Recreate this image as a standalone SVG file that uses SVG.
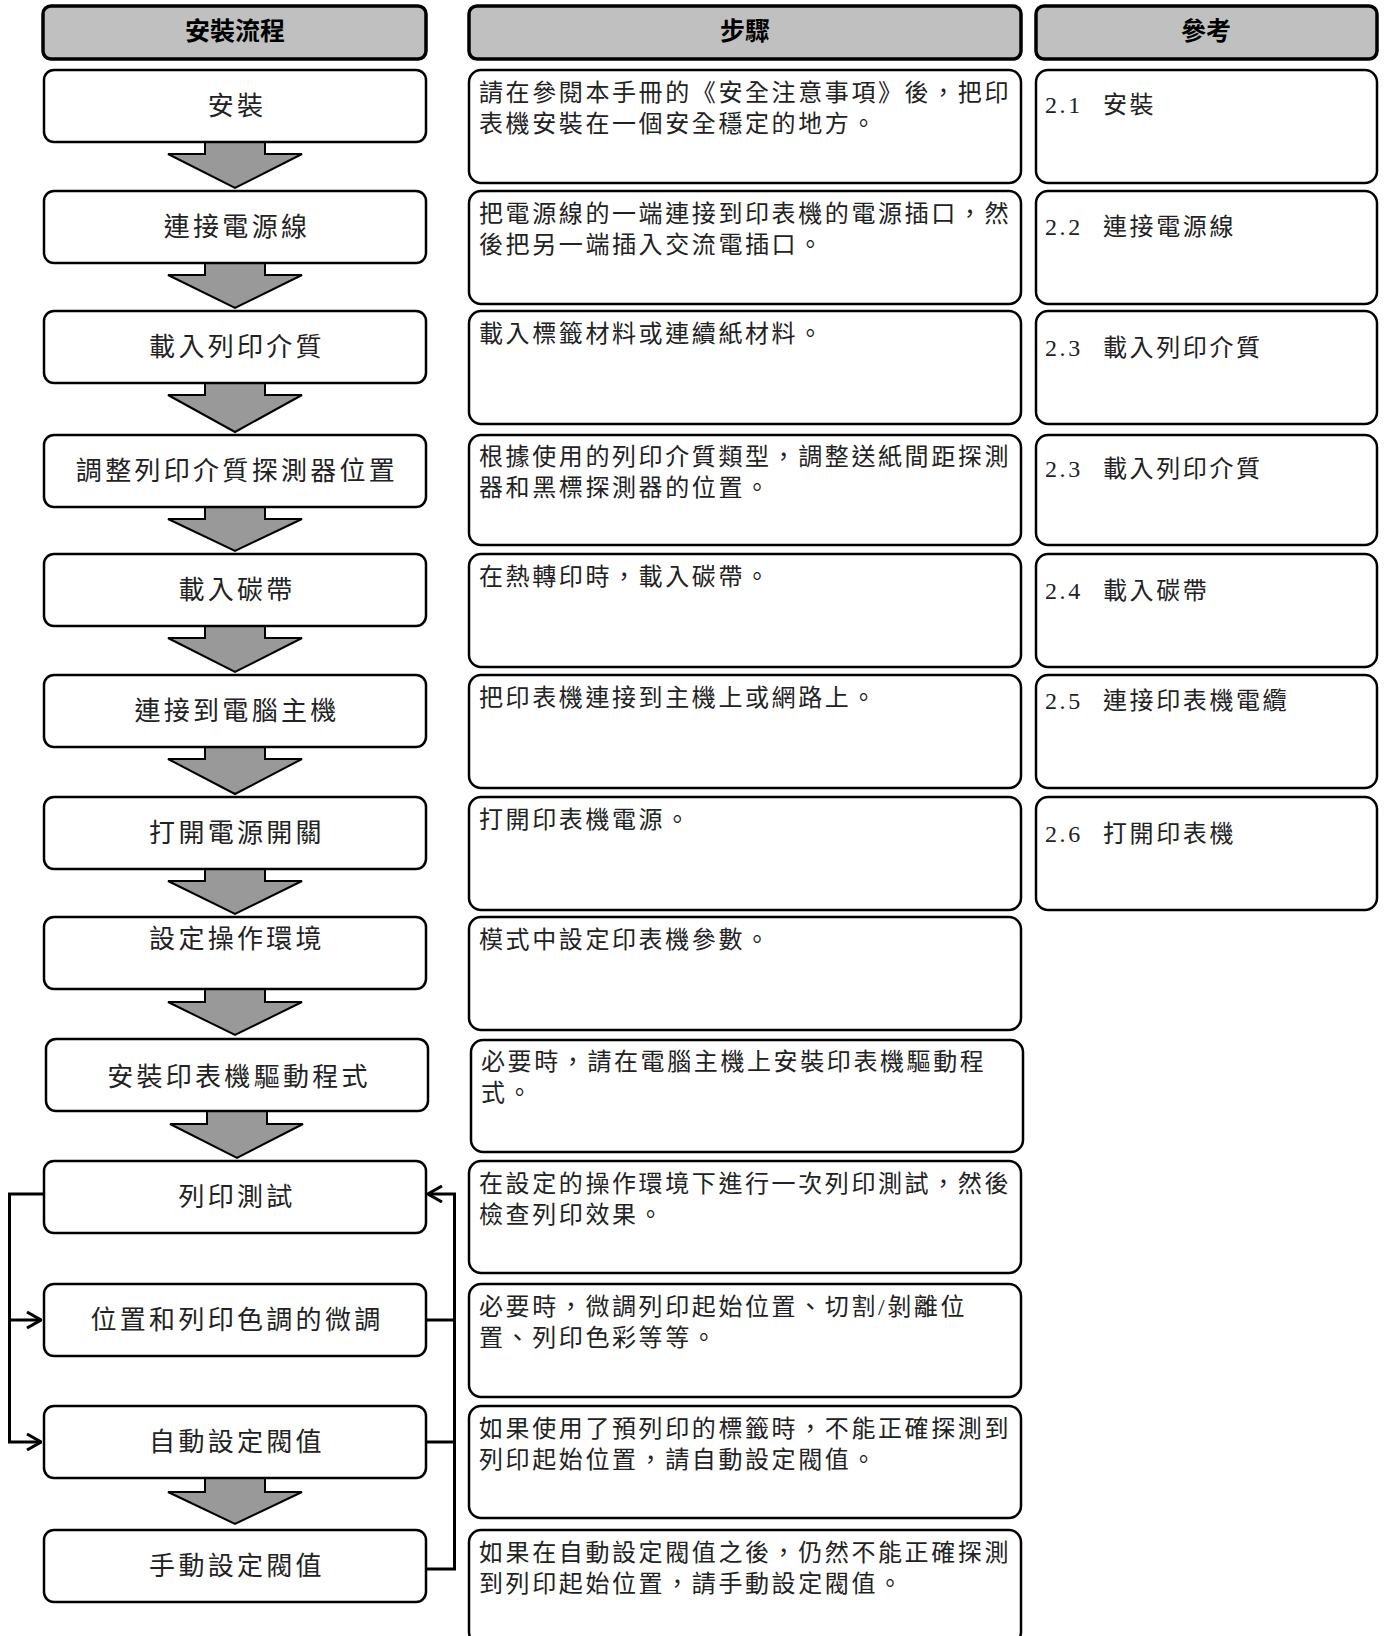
<svg xmlns="http://www.w3.org/2000/svg" width="1384" height="1636" viewBox="0 0 1384 1636">
<style>
.hdr{fill:#c0c0c0;stroke:#000;stroke-width:3.5}
.box{fill:#fff;stroke:#000;stroke-width:2.5}
.ht{font-family:"Noto Sans CJK TC","Noto Sans CJK SC",sans-serif;font-weight:bold;font-size:25px;text-anchor:middle;fill:#000}
.nt{font-family:"Liberation Serif","Noto Sans CJK TC",serif;font-size:26px;letter-spacing:3.3px;text-anchor:middle;fill:#222}
.st{font-family:"Liberation Serif","Noto Sans CJK TC",serif;font-size:24px;letter-spacing:2.6px;fill:#222}
.blk{fill:#999;stroke:#000;stroke-width:2;stroke-linejoin:miter}
.ln{fill:none;stroke:#000;stroke-width:3}
</style>
<defs>
<marker id="chev" viewBox="0 0 16 18" refX="15" refY="9" markerWidth="16" markerHeight="18" markerUnits="userSpaceOnUse" orient="auto">
<path d="M1,1 L15,9 L1,17" fill="none" stroke="#000" stroke-width="3"/>
</marker>
</defs>

<g id="headers">
<g id="h-flow"><rect class="hdr" x="43" y="6" width="383" height="53" rx="8"/><text class="ht" x="235" y="40">安裝流程</text></g>
<g id="h-step"><rect class="hdr" x="469" y="6" width="552" height="53" rx="8"/><text class="ht" x="745" y="40">步驟</text></g>
<g id="h-ref"><rect class="hdr" x="1036" y="6" width="341" height="53" rx="8"/><text class="ht" x="1206" y="40">參考</text></g>
</g>

<g id="connectors">
<polygon class="blk" points="205,142 265,142 265,154 302,154 235,188 168,154 205,154"/>
<polygon class="blk" points="205,263 265,263 265,275 302,275 235,308 168,275 205,275"/>
<polygon class="blk" points="205,383 265,383 265,395 302,395 235,432 168,395 205,395"/>
<polygon class="blk" points="205,507 265,507 265,519 302,519 235,551 168,519 205,519"/>
<polygon class="blk" points="205,626 265,626 265,638 302,638 235,672 168,638 205,638"/>
<polygon class="blk" points="205,747 265,747 265,759 302,759 235,794 168,759 205,759"/>
<polygon class="blk" points="205,869 265,869 265,881 302,881 235,914 168,881 205,881"/>
<polygon class="blk" points="205,989 265,989 265,1002 302,1002 235,1035 168,1002 205,1002"/>
<polygon class="blk" points="207,1111 267,1111 267,1124 303,1124 237,1158 170,1124 207,1124"/>
<polygon class="blk" points="205,1478 265,1478 265,1492 302,1492 235,1524 168,1492 205,1492"/>
<path class="ln" d="M44,1194 H9.5 V1442 H41" marker-end="url(#chev)"/>
<path class="ln" d="M9.5,1320 H41" marker-end="url(#chev)"/>
<path class="ln" d="M426,1569 H454.5 V1194 H428" marker-end="url(#chev)"/>
<path class="ln" d="M426,1320 H454.5"/>
<path class="ln" d="M426,1442 H454.5"/>
</g>

<g id="flow">
<g id="n1"><rect class="box" x="44" y="70" width="382" height="72" rx="10"/><text class="nt" x="237" y="115">安裝</text></g>
<g id="n2"><rect class="box" x="44" y="191" width="382" height="72" rx="10"/><text class="nt" x="237" y="236">連接電源線</text></g>
<g id="n3"><rect class="box" x="44" y="311" width="382" height="72" rx="10"/><text class="nt" x="237" y="356">載入列印介質</text></g>
<g id="n4"><rect class="box" x="44" y="435" width="382" height="72" rx="10"/><text class="nt" x="237" y="480">調整列印介質探測器位置</text></g>
<g id="n5"><rect class="box" x="44" y="554" width="382" height="72" rx="10"/><text class="nt" x="237" y="599">載入碳帶</text></g>
<g id="n6"><rect class="box" x="44" y="675" width="382" height="72" rx="10"/><text class="nt" x="237" y="720">連接到電腦主機</text></g>
<g id="n7"><rect class="box" x="44" y="797" width="382" height="72" rx="10"/><text class="nt" x="237" y="842">打開電源開關</text></g>
<g id="n8"><rect class="box" x="44" y="917" width="382" height="72" rx="10"/><text class="nt" x="237" y="948">設定操作環境</text></g>
<g id="n9"><rect class="box" x="46" y="1039" width="382" height="72" rx="10"/><text class="nt" x="239" y="1086">安裝印表機驅動程式</text></g>
<g id="n10"><rect class="box" x="44" y="1161" width="382" height="72" rx="10"/><text class="nt" x="237" y="1206">列印測試</text></g>
<g id="n11"><rect class="box" x="44" y="1284" width="382" height="72" rx="10"/><text class="nt" x="237" y="1329">位置和列印色調的微調</text></g>
<g id="n12"><rect class="box" x="44" y="1406" width="382" height="72" rx="10"/><text class="nt" x="237" y="1451">自動設定閥值</text></g>
<g id="n13"><rect class="box" x="44" y="1530" width="382" height="72" rx="10"/><text class="nt" x="237" y="1575">手動設定閥值</text></g>
</g>

<g id="steps">
<g id="s1"><rect class="box" x="469" y="70" width="552" height="113" rx="12"/><text class="st" x="479" y="101">請在參閱本手冊的《安全注意事項》後，把印</text><text class="st" x="479" y="132">表機安裝在一個安全穩定的地方。</text></g>
<g id="s2"><rect class="box" x="469" y="191" width="552" height="113" rx="12"/><text class="st" x="479" y="222">把電源線的一端連接到印表機的電源插口，然</text><text class="st" x="479" y="253">後把另一端插入交流電插口。</text></g>
<g id="s3"><rect class="box" x="469" y="311" width="552" height="113" rx="12"/><text class="st" x="479" y="342">載入標籤材料或連續紙材料。</text></g>
<g id="s4"><rect class="box" x="469" y="435" width="552" height="110" rx="12"/><text class="st" x="479" y="465">根據使用的列印介質類型，調整送紙間距探測</text><text class="st" x="479" y="496">器和黑標探測器的位置。</text></g>
<g id="s5"><rect class="box" x="469" y="554" width="552" height="113" rx="12"/><text class="st" x="479" y="585">在熱轉印時，載入碳帶。</text></g>
<g id="s6"><rect class="box" x="469" y="675" width="552" height="113" rx="12"/><text class="st" x="479" y="706">把印表機連接到主機上或網路上。</text></g>
<g id="s7"><rect class="box" x="469" y="797" width="552" height="113" rx="12"/><text class="st" x="479" y="828">打開印表機電源。</text></g>
<g id="s8"><rect class="box" x="469" y="917" width="552" height="113" rx="12"/><text class="st" x="479" y="948">模式中設定印表機參數。</text></g>
<g id="s9"><rect class="box" x="471" y="1040" width="552" height="112" rx="12"/><text class="st" x="481" y="1070">必要時，請在電腦主機上安裝印表機驅動程</text><text class="st" x="481" y="1101">式。</text></g>
<g id="s10"><rect class="box" x="469" y="1161" width="552" height="112" rx="12"/><text class="st" x="479" y="1192">在設定的操作環境下進行一次列印測試，然後</text><text class="st" x="479" y="1223">檢查列印效果。</text></g>
<g id="s11"><rect class="box" x="469" y="1284" width="552" height="113" rx="12"/><text class="st" x="479" y="1315">必要時，微調列印起始位置、切割/剝離位</text><text class="st" x="479" y="1346">置、列印色彩等等。</text></g>
<g id="s12"><rect class="box" x="469" y="1406" width="552" height="112" rx="12"/><text class="st" x="479" y="1437">如果使用了預列印的標籤時，不能正確探測到</text><text class="st" x="479" y="1468">列印起始位置，請自動設定閥值。</text></g>
<g id="s13"><rect class="box" x="469" y="1530" width="552" height="114" rx="12"/><text class="st" x="479" y="1561">如果在自動設定閥值之後，仍然不能正確探測</text><text class="st" x="479" y="1592">到列印起始位置，請手動設定閥值。</text></g>
</g>

<g id="refs">
<g id="r1"><rect class="box" x="1036" y="70" width="341" height="113" rx="12"/><text class="st" x="1045" y="113">2.1 <tspan x="1103">安裝</tspan></text></g>
<g id="r2"><rect class="box" x="1036" y="191" width="341" height="113" rx="12"/><text class="st" x="1045" y="235">2.2 <tspan x="1103">連接電源線</tspan></text></g>
<g id="r3"><rect class="box" x="1036" y="311" width="341" height="113" rx="12"/><text class="st" x="1045" y="356">2.3 <tspan x="1103">載入列印介質</tspan></text></g>
<g id="r4"><rect class="box" x="1036" y="435" width="341" height="110" rx="12"/><text class="st" x="1045" y="477">2.3 <tspan x="1103">載入列印介質</tspan></text></g>
<g id="r5"><rect class="box" x="1036" y="554" width="341" height="113" rx="12"/><text class="st" x="1045" y="599">2.4 <tspan x="1103">載入碳帶</tspan></text></g>
<g id="r6"><rect class="box" x="1036" y="675" width="341" height="113" rx="12"/><text class="st" x="1045" y="709">2.5 <tspan x="1103">連接印表機電纜</tspan></text></g>
<g id="r7"><rect class="box" x="1036" y="797" width="341" height="113" rx="12"/><text class="st" x="1045" y="842">2.6 <tspan x="1103">打開印表機</tspan></text></g>
</g>
</svg>
